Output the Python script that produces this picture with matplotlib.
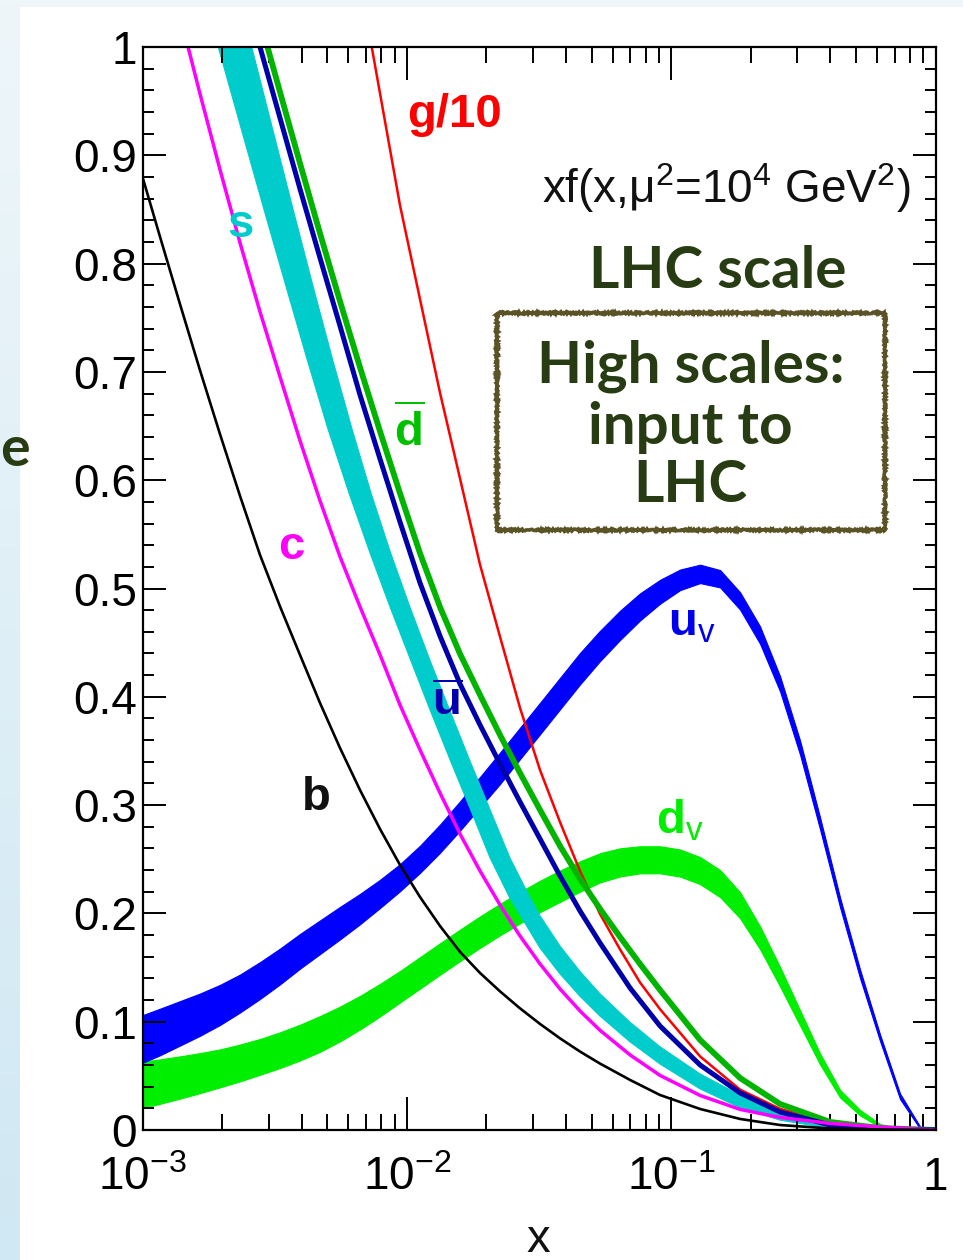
import matplotlib.pyplot as plt
import numpy as np
from matplotlib.colors import LinearSegmentedColormap
from matplotlib.patches import Rectangle
from matplotlib.ticker import LogLocator, MultipleLocator, NullFormatter

plt.rcParams['font.family'] = ['Liberation Sans', 'DejaVu Sans']
plt.rcParams['mathtext.fontset'] = 'custom'
plt.rcParams['mathtext.rm'] = 'Liberation Sans'
plt.rcParams['mathtext.it'] = 'Liberation Sans:italic'
plt.rcParams['mathtext.bf'] = 'Liberation Sans:bold'

# --- values: xf(x, mu^2 = 1e4 GeV^2) ---
# u valence band
uv_x = [0.001, 0.001165, 0.001387, 0.00165, 0.001965, 0.002338, 0.002783, 0.003313, 0.003944,
        0.004694, 0.005588, 0.006651, 0.007917, 0.009425, 0.01122, 0.01335, 0.0159, 0.01892,
        0.02252, 0.02681, 0.03192, 0.03799, 0.04522, 0.05383, 0.06408, 0.07625, 0.09078,
        0.1081, 0.1287, 0.1532, 0.1823, 0.2169, 0.2582, 0.3074, 0.3659, 0.4356, 0.5185,
        0.6172, 0.7346, 0.8753, 1.0]
uv_hi = [0.106, 0.112, 0.119, 0.126, 0.134, 0.1435, 0.155, 0.1675, 0.181, 0.1935, 0.206, 0.218,
         0.231, 0.2455, 0.2625, 0.282, 0.3035, 0.326, 0.3485, 0.3715, 0.3945, 0.4175, 0.4405,
         0.461, 0.4795, 0.4955, 0.508, 0.5175, 0.522, 0.517, 0.4965, 0.465, 0.419, 0.3595,
         0.2885, 0.2145, 0.148, 0.088, 0.0335, 0.003, 0.0]
uv_lo = [0.062, 0.069, 0.078, 0.087, 0.097, 0.1085, 0.121, 0.1345, 0.149, 0.1625, 0.176, 0.190,
         0.205, 0.2205, 0.2375, 0.256, 0.2765, 0.298, 0.3195, 0.3425, 0.3655, 0.3885, 0.4115,
         0.433, 0.4525, 0.4705, 0.486, 0.4985, 0.505, 0.501, 0.4805, 0.449, 0.405, 0.3465,
         0.2775, 0.2055, 0.140, 0.082, 0.0285, 0.001, 0.0]

# d valence band
dv_x = [0.001, 0.001165, 0.001387, 0.00165, 0.001965, 0.002338, 0.002783, 0.003313, 0.003944,
        0.004694, 0.005588, 0.006651, 0.007917, 0.009425, 0.01122, 0.01335, 0.0159, 0.01892,
        0.02252, 0.02681, 0.03192, 0.03799, 0.04522, 0.05383, 0.06408, 0.07625, 0.09078,
        0.1081, 0.1287, 0.1532, 0.1823, 0.2169, 0.2582, 0.3074, 0.3659, 0.4356, 0.5185,
        0.6172, 0.7346, 1.0]
dv_hi = [0.063, 0.0652, 0.068, 0.071, 0.0744, 0.0789, 0.084, 0.0902, 0.0972, 0.1052, 0.1139,
         0.1238, 0.1349, 0.1468, 0.1596, 0.1724, 0.185, 0.1972, 0.2088, 0.2198, 0.2302, 0.2396,
         0.2481, 0.2556, 0.2601, 0.262, 0.262, 0.259, 0.252, 0.240, 0.2195, 0.188, 0.1505,
         0.1105, 0.0705, 0.037, 0.0185, 0.0055, 0.0013, 0.0]
dv_lo = [0.020, 0.0242, 0.029, 0.034, 0.0394, 0.0449, 0.051, 0.0572, 0.0642, 0.0722, 0.0819,
         0.0928, 0.1049, 0.1178, 0.1306, 0.1434, 0.156, 0.1682, 0.1798, 0.1908, 0.2012, 0.2106,
         0.2201, 0.2286, 0.2341, 0.237, 0.237, 0.234, 0.227, 0.215, 0.1955, 0.167, 0.1325,
         0.0965, 0.0605, 0.030, 0.0135, 0.0025, 0.0003, 0.0]

# strange band, as its two edges
s_hi_x = [0.002589, 0.003186, 0.003759, 0.004436, 0.005244, 0.006204, 0.00732, 0.008662,
          0.010274, 0.012197, 0.014537, 0.0173, 0.02059, 0.02455, 0.0293, 0.03191, 0.03799,
          0.04522, 0.05382, 0.0699, 0.09079, 0.1286, 0.1822, 0.2583, 0.3992, 0.6172, 1.0]
s_hi_y = [1.0, 0.9137, 0.8450, 0.7774, 0.7109, 0.6472, 0.5881, 0.5336, 0.4828, 0.4344, 0.3873,
          0.3412, 0.2964, 0.2512, 0.2142, 0.1977, 0.1698, 0.1463, 0.1257, 0.0995, 0.0768,
          0.0518, 0.0322, 0.0178, 0.0070, 0.0023, 0.0]
s_lo_x = [0.001935, 0.002432, 0.00292, 0.003506, 0.004203, 0.005033, 0.006043, 0.007238,
          0.008646, 0.010319, 0.012271, 0.014613, 0.017387, 0.020658, 0.024533, 0.03191,
          0.03799, 0.04522, 0.05382, 0.0699, 0.09079, 0.1286, 0.1822, 0.2583, 0.3992, 0.6172, 1.0]
s_lo_y = [1.0, 0.9137, 0.8450, 0.7774, 0.7109, 0.6472, 0.5881, 0.5336, 0.4828, 0.4344, 0.3873,
          0.3412, 0.2964, 0.2512, 0.2142, 0.1680, 0.1441, 0.1234, 0.1052, 0.0814, 0.0609,
          0.0380, 0.0206, 0.0091, 0.0015, 0.0, 0.0]

# single curves
g10_x = [0.007365, 0.007917, 0.009425, 0.01122, 0.01335, 0.0159, 0.01892, 0.02252, 0.02681,
         0.03192, 0.03799, 0.04522, 0.05383, 0.06408, 0.07625, 0.09078, 0.1287, 0.1823, 0.2582,
         0.3993, 0.6172, 1.0]
g10_y = [1.0, 0.9571, 0.8536, 0.7669, 0.6807, 0.6013, 0.5219, 0.4554, 0.3896, 0.3322, 0.2842,
         0.2390, 0.1993, 0.1667, 0.1362, 0.1115, 0.0679, 0.0372, 0.0195, 0.0065, 0.0014, 0.0]

dbar_x = [0.002971, 0.003313, 0.003944, 0.004694, 0.005588, 0.006651, 0.007917, 0.009425,
          0.01122, 0.01335, 0.0159, 0.01892, 0.02252, 0.02681, 0.03192, 0.03799, 0.04522,
          0.05383, 0.06408, 0.07625, 0.09078, 0.1287, 0.1823, 0.2582, 0.3993, 0.6172, 1.0]
dbar_y = [1.0, 0.9584, 0.8925, 0.8279, 0.7651, 0.7041, 0.6451, 0.5878, 0.5324, 0.4829, 0.4395,
          0.4017, 0.3647, 0.3296, 0.2955, 0.2622, 0.2318, 0.2041, 0.1782, 0.1533, 0.1293,
          0.0831, 0.0480, 0.0240, 0.0074, 0.0018, 0.0]

ubar_x = [0.002783, 0.003313, 0.003944, 0.004694, 0.005588, 0.006651, 0.007917, 0.009425,
          0.01122, 0.01335, 0.0159, 0.01892, 0.02252, 0.02681, 0.03192, 0.03799, 0.04522,
          0.05383, 0.06992, 0.09078, 0.1287, 0.1823, 0.2582, 0.3993, 0.6172, 1.0]
ubar_y = [1.0, 0.9344, 0.8689, 0.8052, 0.7424, 0.6787, 0.6196, 0.5614, 0.5051, 0.4561, 0.4118,
          0.3740, 0.3380, 0.3029, 0.2687, 0.2345, 0.2022, 0.1727, 0.1311, 0.0960, 0.0600,
          0.0342, 0.0166, 0.0046, 0.0009, 0.0]

c_x = [0.001487, 0.00165, 0.001965, 0.002338, 0.002783, 0.003313, 0.003944, 0.004694, 0.005588,
       0.006651, 0.007917, 0.009425, 0.01122, 0.01335, 0.0159, 0.01892, 0.02252, 0.02681,
       0.03192, 0.03799, 0.04522, 0.05383, 0.06992, 0.09078, 0.1287, 0.1823, 0.2582, 0.3993,
       0.6172, 1.0]
c_y = [1.0, 0.9568, 0.8866, 0.8192, 0.7555, 0.6955, 0.6364, 0.5810, 0.5293, 0.4831, 0.4388,
       0.3924, 0.3509, 0.3112, 0.2733, 0.2392, 0.2078, 0.1791, 0.1533, 0.1302, 0.1099, 0.0920,
       0.0693, 0.0504, 0.0319, 0.0190, 0.0116, 0.0061, 0.0028, 0.0]

b_x = [0.001, 0.001165, 0.001387, 0.00165, 0.001965, 0.002338, 0.002783, 0.003313, 0.003944,
       0.004694, 0.005588, 0.006651, 0.007917, 0.009425, 0.01122, 0.01335, 0.0159, 0.01892,
       0.02252, 0.02681, 0.03192, 0.03799, 0.04522, 0.05383, 0.06992, 0.09078, 0.1287, 0.1823,
       0.2582, 0.3993, 0.6172, 1.0]
b_y = [0.880, 0.8247, 0.7624, 0.7015, 0.6424, 0.5855, 0.5310, 0.4834, 0.4386, 0.3943, 0.3527,
       0.3139, 0.2779, 0.2447, 0.2151, 0.1884, 0.1644, 0.1450, 0.1280, 0.1123, 0.0979, 0.0846,
       0.0724, 0.0613, 0.0462, 0.0323, 0.0194, 0.0102, 0.0046, 0.0014, 0.0005, 0.0]

x_ticks = [1e-3, 1e-2, 1e-1, 1]
x_ticklabels = [r'$10^{-3}$', r'$10^{-2}$', r'$10^{-1}$', '1']
y_ticks = [0, 0.1, 0.2, 0.3, 0.4, 0.5, 0.6, 0.7, 0.8, 0.9, 1.0]
y_ticklabels = ['0', '0.1', '0.2', '0.3', '0.4', '0.5', '0.6', '0.7', '0.8', '0.9', '1']

W, H = 963, 1260
fig = plt.figure(figsize=(W / 100, H / 100), dpi=100)

# slide background: pale blue border, white panel
bg = fig.add_axes([0, 0, 1, 1], zorder=-10)
grad = np.linspace(0, 1, 256).reshape(-1, 1)
bg.imshow(grad, cmap=LinearSegmentedColormap.from_list('bg', ['#eef6fa', '#d0e8f3']),
          aspect='auto', extent=[0, 1, 0, 1], origin='upper')
bg.add_patch(Rectangle((20 / W, 0), 1, 1 - 7 / H, color='white', lw=0))
bg.set_xlim(0, 1)
bg.set_ylim(0, 1)
bg.axis('off')

ax = fig.add_axes([142.5 / W, 1 - 1130 / H, 793 / W, 1083 / H])
ax.set_facecolor('white')
ax.set_xscale('log')
ax.set_xlim(1e-3, 1)
ax.set_ylim(0, 1)

# bands first, lines on top
ax.fill_between(dv_x, dv_lo, dv_hi, color='#00ee00', lw=0.8)
ax.fill_between(uv_x, uv_lo, uv_hi, color='#0000ff', lw=0.8)
ax.plot(g10_x, g10_y, color='#ff0000', lw=1.8)
ax.plot(dbar_x, dbar_y, color='#00b400', lw=4.2)
ax.plot(ubar_x, ubar_y, color='#0000aa', lw=3.6)
ax.fill(s_lo_x + s_hi_x[::-1], s_lo_y + s_hi_y[::-1], color='#00cccc', lw=0.8)
ax.plot(c_x, c_y, color='#ff00ff', lw=2.5)
ax.plot(b_x, b_y, color='black', lw=1.9)

# axes styling
for sp in ax.spines.values():
    sp.set_linewidth(1.6)
ax.set_xticks(x_ticks)
ax.set_xticklabels(x_ticklabels)
ax.xaxis.set_minor_locator(LogLocator(base=10, subs=np.arange(2, 10)))
ax.xaxis.set_minor_formatter(NullFormatter())
ax.set_yticks(y_ticks)
ax.set_yticklabels(y_ticklabels)
ax.yaxis.set_minor_locator(MultipleLocator(0.02))
ax.tick_params(axis='y', which='major', direction='in', length=16.5, width=1.4,
               left=True, right=True, labelsize=33, pad=4)
ax.tick_params(axis='y', which='minor', direction='in', length=8, width=1.4,
               left=True, right=True)
ax.tick_params(axis='x', which='major', direction='in', length=24, width=1.4,
               bottom=True, top=True, labelsize=33, pad=19)
ax.tick_params(axis='x', which='minor', direction='in', length=11.5, width=1.4,
               bottom=True, top=True)

# curve labels
lab = dict(fontsize=34, fontweight='bold', ha='center', va='center')
ax.text(0.0152, 0.937, 'g/10', color='#ff0000', **lab)
ax.text(0.00234, 0.836, 's', color='#00cccc', **lab)
ax.text(0.00365, 0.538, 'c', color='#ff00ff', **lab)
ax.text(0.00453, 0.307, 'b', color='#111111', **lab)
ax.text(0.0102, 0.645, r'$\overline{\mathbf{d}}$', color='#00c000', **lab)
ax.text(0.0143, 0.394, r'$\overline{\mathbf{u}}$', color='#0000b0', **lab)
ax.text(0.120, 0.468, r'$\mathbf{u}_{\mathrm{v}}$', color='#0000ee', **lab)
ax.text(0.108, 0.286, r'$\mathbf{d}_{\mathrm{v}}$', color='#00ee00', **lab)

fig.text(910 / W, 1 - 188 / H, r'xf(x,μ$^{2}$=10$^{4}$ GeV$^{2}$)', fontsize=33,
         ha='right', va='center', color='#111111')
fig.text(538 / W, 1 - 1240 / H, 'x', fontsize=34, ha='center', va='center', color='#111111')

# slide annotations
dgreen = '#283c14'
note = dict(family=['Lato', 'DejaVu Sans'], fontweight='bold', color=dgreen,
            ha='center', va='center')
fig.text(718 / W, 1 - 272 / H, 'LHC scale', fontsize=42, **note)
fig.text(691 / W, 1 - 366 / H, 'High scales:', fontsize=42, **note)
fig.text(690 / W, 1 - 427 / H, 'input to', fontsize=42, **note)
fig.text(690 / W, 1 - 485 / H, 'LHC', fontsize=42, **note)
fig.text(30 / W, 1 - 450 / H, 'e', fontsize=40, **{**note, 'ha': 'right'})

box = Rectangle((497 / W, 1 - 530 / H), 388 / W, 217 / H, transform=fig.transFigure,
                fill=False, edgecolor='#5b5325', lw=2.6, zorder=5, joinstyle='miter')
box.set_sketch_params(scale=1.0, length=2, randomness=2)
fig.add_artist(box)

fig.savefig('out.png', dpi=100)
